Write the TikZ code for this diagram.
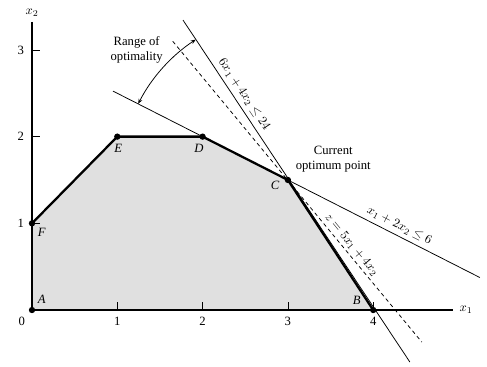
\documentclass[tikz,border=0pt]{standalone}
\usepackage{fontspec}
\setmainfont{Liberation Serif}
\usetikzlibrary{positioning, arrows.meta, calc}
\definecolor{feasgray}{HTML}{E0E0E0}

\begin{document}
\begin{tikzpicture}[x=67.4pt, y=68.5pt,
    axis/.style={line width=1.1pt},
    edge/.style={line width=1.8pt},
    constr/.style={line width=0.6pt},
    tickmark/.style={line width=0.6pt},
    vertex/.style={circle, fill=black, inner sep=0pt, minimum size=5pt},
    vlabel/.style={font=\itshape, inner sep=1pt}]
  \useasboundingbox (-0.375,-0.646) rectangle (5.334,3.576);
  % corner points
  \coordinate (A) at (0,0);
  \coordinate (B) at (4,0);
  \coordinate (C) at (3,1.5);
  \coordinate (D) at (2,2);
  \coordinate (E) at (1,2);
  \coordinate (F) at (0,1);
  \fill[feasgray] (A) -- (B) -- (C) -- (D) -- (E) -- (F) -- cycle;
  % axes
  \coordinate (xend) at (4.93,0);
  \coordinate (yend) at (0,3.325);
  \draw[axis] (yend) -- (A) -- (xend);
  \node (xlab) at (5.09,0) {$x_1$};
  \node (ylab) at (0,3.43) {$x_2$};
  \node (orig) at (-0.12,-0.135) {0};
  \foreach \i in {1,2,3,4} {
    \draw[tickmark] (\i,0) -- (\i,0.09);
    \node (xt\i) at (\i,-0.135) {\i};
  }
  \foreach \i in {1,2,3} {
    \draw[tickmark] (0,\i) -- (0.09,\i);
    \node (yt\i) at (-0.13,\i) {\i};
  }
  % constraint lines and objective
  \draw[constr] (1.77,3.345) -- node[sloped, above, pos=0.234] (lab1) {$6x_1 + 4x_2 \le 24$} (4.43,-0.6);
  \draw[constr] (0.95,2.525) -- node[sloped, above, pos=0.769] (lab2) {$x_1 + 2x_2 \le 6$} (5.25,0.375);
  \draw[constr, dash pattern=on 3pt off 2.5pt] (1.65,3.1) -- node[sloped, above, pos=0.694, inner sep=2pt] (labz) {$z = 5x_1 + 4x_2$} (4.57,-0.37);
  % feasible boundary
  \draw[edge] (F) -- (E) -- (D) -- (C) -- (B);
  \foreach \p in {A,B,C,D,E,F} \node[vertex] (dot\p) at (\p) {};
  \node[vlabel] (labA) at (0.113,0.123) {A};
  \node[vlabel] (labB) at (3.806,0.107) {B};
  \node[vlabel] (labC) at (2.849,1.442) {C};
  \node[vlabel] (labD) at (1.958,1.865) {D};
  \node[vlabel] (labE) at (1.012,1.865) {E};
  \node[vlabel] (labF) at (0.113,0.892) {F};
  % range of optimality
  \coordinate (r1) at ($(C)+(153.05:132.7pt)$);
  \draw[{Stealth[length=4pt,width=3pt]}-{Stealth[length=4pt,width=3pt]}, line width=0.6pt]
    (r1) arc[start angle=153.05, end angle=123.25, radius=132.7pt];
  \node[align=center] (range) at (1.227,3.0) {Range of\\optimality};
  \node[align=center] (optpt) at (3.532,1.738) {Current\\optimum point};
\end{tikzpicture}
\end{document}
